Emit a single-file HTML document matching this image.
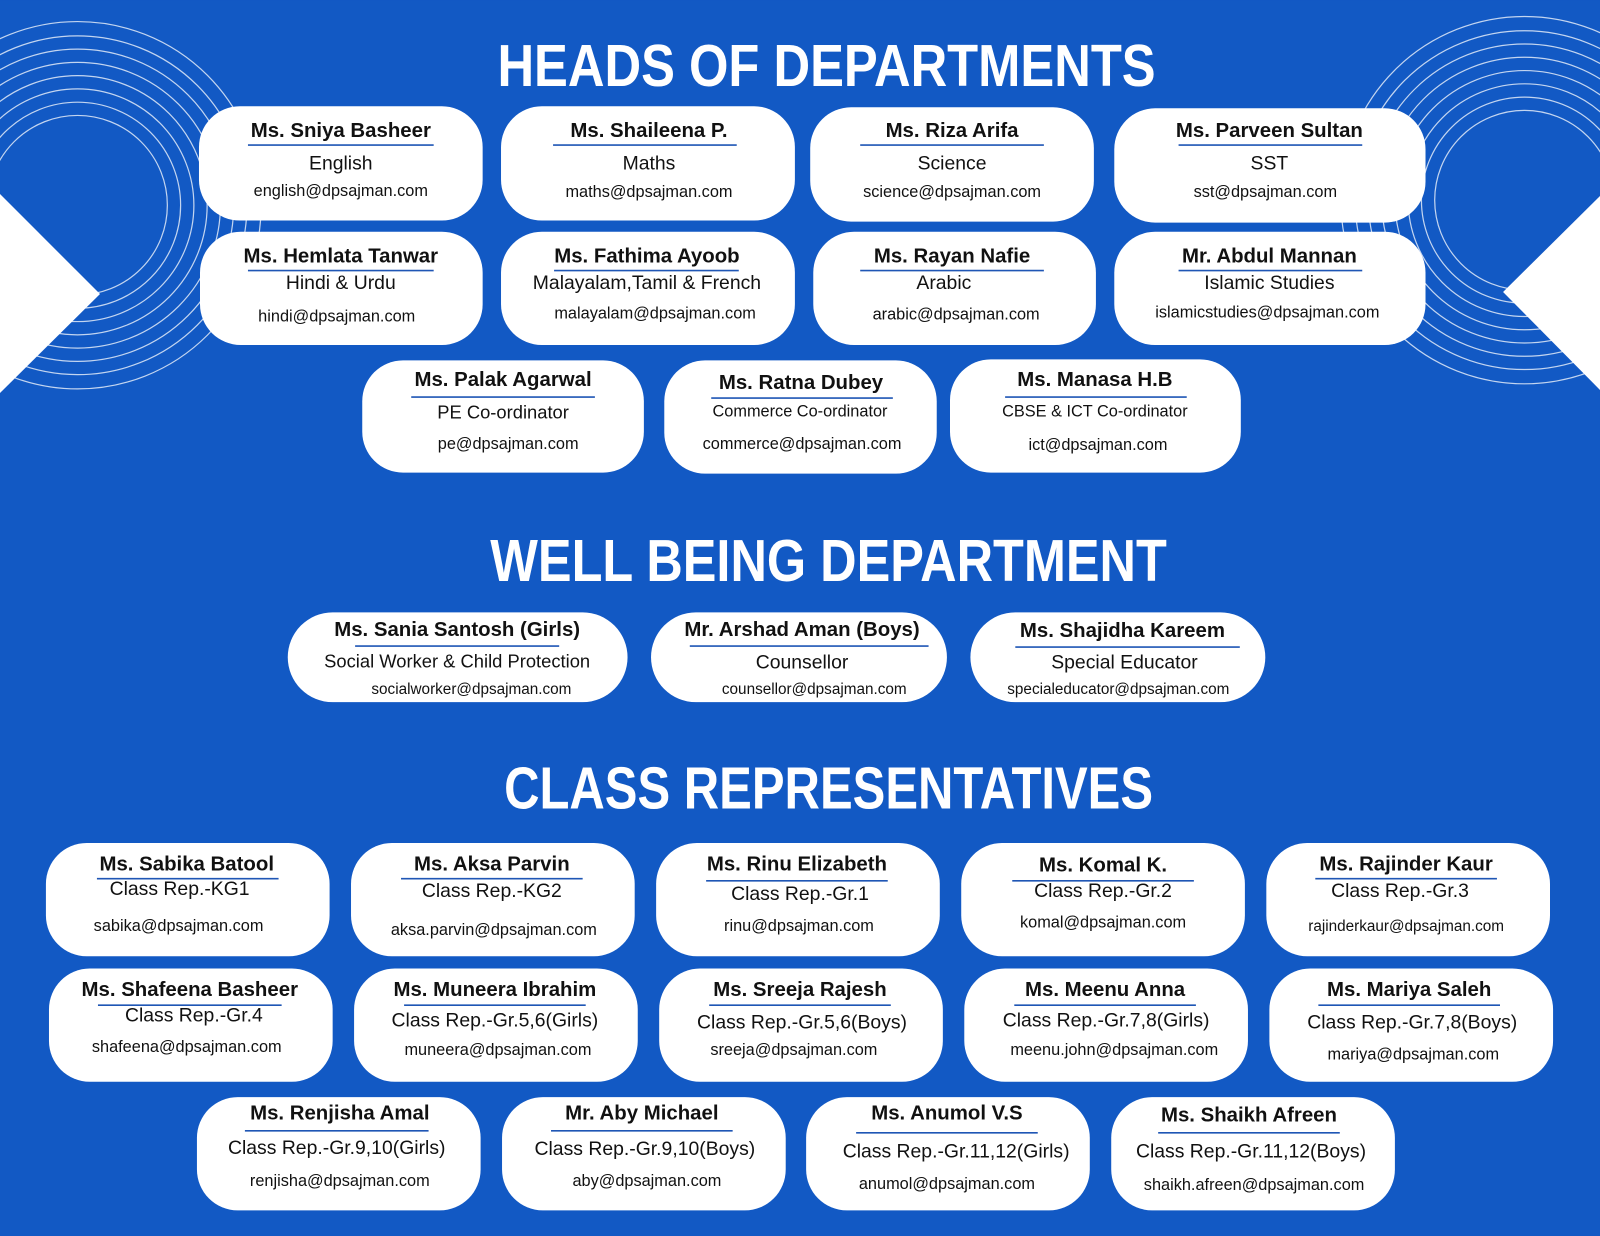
<!DOCTYPE html>
<html><head><meta charset="utf-8"><style>
html,body{margin:0;padding:0;background:#1259c4;}
svg{display:block;}
text{font-family:"Liberation Sans",sans-serif;fill:#111;text-anchor:middle;}
.h{fill:#fff;font-weight:bold;font-size:58px;}
.n{font-weight:bold;font-size:20px;}
.s{font-size:19px;}
.e{font-size:16px;}
.c{fill:#fff;}
.u{stroke:#1f56b5;stroke-width:1.6;}
.ring{fill:none;stroke:#fff;stroke-opacity:.75;stroke-width:1.2;}
</style></head><body>
<svg width="1600" height="1236" viewBox="0 0 1568 1211" xmlns="http://www.w3.org/2000/svg">
<rect width="1568" height="1211" fill="#1259c4"/>
<g class="ring">
<circle cx="76" cy="201" r="88"/><circle cx="76" cy="201" r="101"/><circle cx="76" cy="201" r="114"/><circle cx="76" cy="201" r="127"/><circle cx="76" cy="201" r="140"/><circle cx="76" cy="201" r="153"/><circle cx="76" cy="201" r="166"/><circle cx="76" cy="201" r="180"/>
<circle cx="1494" cy="196" r="88"/><circle cx="1494" cy="196" r="101"/><circle cx="1494" cy="196" r="114"/><circle cx="1494" cy="196" r="127"/><circle cx="1494" cy="196" r="140"/><circle cx="1494" cy="196" r="153"/><circle cx="1494" cy="196" r="166"/><circle cx="1494" cy="196" r="180"/>
</g>
<polygon points="0,190 98,288 0,385" fill="#fff"/>
<polygon points="1568,192 1473,286 1568,382" fill="#fff"/>

<text class="h" x="810" y="84" textLength="645" lengthAdjust="spacingAndGlyphs">HEADS OF DEPARTMENTS</text>
<text class="h" x="812" y="569" textLength="663" lengthAdjust="spacingAndGlyphs">WELL BEING DEPARTMENT</text>
<text class="h" x="812" y="792" textLength="636" lengthAdjust="spacingAndGlyphs">CLASS REPRESENTATIVES</text>

<!-- HOD row1 -->
<rect class="c" x="195" y="104" width="278" height="112" rx="40"/>
<rect class="c" x="491" y="104" width="288" height="112" rx="40"/>
<rect class="c" x="794" y="105" width="278" height="112" rx="40"/>
<rect class="c" x="1092" y="106" width="305" height="112" rx="40"/>
<text class="n" x="334" y="134">Ms. Sniya Basheer</text><line class="u" x1="243" y1="142" x2="425" y2="142"/><text class="s" x="334" y="166">English</text><text class="e" x="334" y="192">english@dpsajman.com</text>
<text class="n" x="636" y="134">Ms. Shaileena P.</text><line class="u" x1="542" y1="142" x2="722" y2="142"/><text class="s" x="636" y="166">Maths</text><text class="e" x="636" y="193">maths@dpsajman.com</text>
<text class="n" x="933" y="134">Ms. Riza Arifa</text><line class="u" x1="843" y1="142" x2="1023" y2="142"/><text class="s" x="933" y="166">Science</text><text class="e" x="933" y="193">science@dpsajman.com</text>
<text class="n" x="1244" y="134">Ms. Parveen Sultan</text><line class="u" x1="1155" y1="142" x2="1335" y2="142"/><text class="s" x="1244" y="166">SST</text><text class="e" x="1240" y="193">sst@dpsajman.com</text>
<!-- HOD row2 -->
<rect class="c" x="196" y="227" width="277" height="111" rx="40"/>
<rect class="c" x="491" y="227" width="288" height="111" rx="40"/>
<rect class="c" x="797" y="227" width="277" height="111" rx="40"/>
<rect class="c" x="1092" y="227" width="305" height="111" rx="40"/>
<text class="n" x="334" y="257">Ms. Hemlata Tanwar</text><line class="u" x1="243" y1="265" x2="425" y2="265"/><text class="s" x="334" y="283">Hindi &amp; Urdu</text><text class="e" x="330" y="315">hindi@dpsajman.com</text>
<text class="n" x="634" y="257">Ms. Fathima Ayoob</text><line class="u" x1="543" y1="265" x2="724" y2="265"/><text class="s" x="634" y="283">Malayalam,Tamil &amp; French</text><text class="e" x="642" y="312">malayalam@dpsajman.com</text>
<text class="n" x="933" y="257">Ms. Rayan Nafie</text><line class="u" x1="843" y1="265" x2="1023" y2="265"/><text class="s" x="925" y="283">Arabic</text><text class="e" x="937" y="313">arabic@dpsajman.com</text>
<text class="n" x="1244" y="257">Mr. Abdul Mannan</text><line class="u" x1="1155" y1="265" x2="1335" y2="265"/><text class="s" x="1244" y="283">Islamic Studies</text><text class="e" x="1242" y="311">islamicstudies@dpsajman.com</text>
<!-- HOD row3 -->
<rect class="c" x="355" y="353" width="276" height="110" rx="40"/>
<rect class="c" x="651" y="353" width="267" height="111" rx="40"/>
<rect class="c" x="931" y="352" width="285" height="111" rx="40"/>
<text class="n" x="493" y="378">Ms. Palak Agarwal</text><line class="u" x1="403" y1="389" x2="583" y2="389"/><text class="s" x="493" y="410" style="font-size:18px">PE Co-ordinator</text><text class="e" x="498" y="440">pe@dpsajman.com</text>
<text class="n" x="785" y="381">Ms. Ratna Dubey</text><line class="u" x1="697" y1="390" x2="875" y2="390"/><text class="s" x="784" y="408" style="font-size:16px">Commerce Co-ordinator</text><text class="e" x="786" y="440">commerce@dpsajman.com</text>
<text class="n" x="1073" y="378">Ms. Manasa H.B</text><line class="u" x1="985" y1="389" x2="1163" y2="389"/><text class="s" x="1073" y="408" style="font-size:16px">CBSE &amp; ICT Co-ordinator</text><text class="e" x="1076" y="441">ict@dpsajman.com</text>

<!-- Wellbeing -->
<rect class="c" x="282" y="600" width="333" height="88" rx="44"/>
<rect class="c" x="638" y="600" width="290" height="88" rx="44"/>
<rect class="c" x="951" y="600" width="289" height="88" rx="44"/>
<text class="n" x="448" y="623">Ms. Sania Santosh  (Girls)</text><line class="u" x1="348" y1="633" x2="548" y2="633"/><text class="s" x="448" y="654" style="font-size:18px">Social Worker &amp; Child Protection</text><text class="e" x="462" y="680" style="font-size:15px">socialworker@dpsajman.com</text>
<text class="n" x="786" y="623">Mr. Arshad Aman (Boys)</text><line class="u" x1="676" y1="633" x2="910" y2="633"/><text class="s" x="786" y="655">Counsellor</text><text class="e" x="798" y="680" style="font-size:15px">counsellor@dpsajman.com</text>
<text class="n" x="1100" y="624">Ms. Shajidha Kareem</text><line class="u" x1="995" y1="634" x2="1215" y2="634"/><text class="s" x="1102" y="655">Special Educator</text><text class="e" x="1096" y="680" style="font-size:15px">specialeducator@dpsajman.com</text>

<!-- CR row1 -->
<rect class="c" x="45" y="826" width="278" height="111" rx="40"/>
<rect class="c" x="344" y="826" width="278" height="111" rx="40"/>
<rect class="c" x="643" y="826" width="278" height="111" rx="40"/>
<rect class="c" x="942" y="826" width="278" height="111" rx="40"/>
<rect class="c" x="1241" y="826" width="278" height="111" rx="40"/>
<text class="n" x="183" y="853">Ms. Sabika Batool</text><line class="u" x1="95" y1="861" x2="273" y2="861"/><text class="s" x="176" y="877">Class Rep.-KG1</text><text class="e" x="175" y="912">sabika@dpsajman.com</text>
<text class="n" x="482" y="853">Ms. Aksa Parvin</text><line class="u" x1="393" y1="861" x2="571" y2="861"/><text class="s" x="482" y="879">Class Rep.-KG2</text><text class="e" x="484" y="916">aksa.parvin@dpsajman.com</text>
<text class="n" x="781" y="853">Ms. Rinu Elizabeth</text><line class="u" x1="692" y1="863" x2="870" y2="863"/><text class="s" x="784" y="882">Class Rep.-Gr.1</text><text class="e" x="783" y="912">rinu@dpsajman.com</text>
<text class="n" x="1081" y="854">Ms. Komal  K.</text><line class="u" x1="992" y1="863" x2="1170" y2="863"/><text class="s" x="1081" y="879">Class Rep.-Gr.2</text><text class="e" x="1081" y="909">komal@dpsajman.com</text>
<text class="n" x="1378" y="853">Ms. Rajinder Kaur</text><line class="u" x1="1289" y1="861" x2="1467" y2="861"/><text class="s" x="1372" y="879">Class Rep.-Gr.3</text><text class="e" x="1378" y="912" style="font-size:15px">rajinderkaur@dpsajman.com</text>
<!-- CR row2 -->
<rect class="c" x="48" y="949" width="278" height="111" rx="40"/>
<rect class="c" x="347" y="949" width="278" height="111" rx="40"/>
<rect class="c" x="646" y="949" width="278" height="111" rx="40"/>
<rect class="c" x="945" y="949" width="278" height="111" rx="40"/>
<rect class="c" x="1244" y="949" width="278" height="111" rx="40"/>
<text class="n" x="186" y="976">Ms. Shafeena Basheer</text><line class="u" x1="96" y1="985" x2="276" y2="985"/><text class="s" x="190" y="1001">Class Rep.-Gr.4</text><text class="e" x="183" y="1031">shafeena@dpsajman.com</text>
<text class="n" x="485" y="976">Ms. Muneera Ibrahim</text><line class="u" x1="396" y1="985" x2="574" y2="985"/><text class="s" x="485" y="1006">Class Rep.-Gr.5,6(Girls)</text><text class="e" x="488" y="1034">muneera@dpsajman.com</text>
<text class="n" x="784" y="976">Ms. Sreeja Rajesh</text><line class="u" x1="695" y1="985" x2="873" y2="985"/><text class="s" x="786" y="1008">Class Rep.-Gr.5,6(Boys)</text><text class="e" x="778" y="1034">sreeja@dpsajman.com</text>
<text class="n" x="1083" y="976">Ms. Meenu Anna</text><line class="u" x1="994" y1="985" x2="1172" y2="985"/><text class="s" x="1084" y="1006">Class Rep.-Gr.7,8(Girls)</text><text class="e" x="1092" y="1034">meenu.john@dpsajman.com</text>
<text class="n" x="1381" y="976">Ms. Mariya Saleh</text><line class="u" x1="1292" y1="985" x2="1470" y2="985"/><text class="s" x="1384" y="1008">Class Rep.-Gr.7,8(Boys)</text><text class="e" x="1385" y="1038">mariya@dpsajman.com</text>
<!-- CR row3 -->
<rect class="c" x="193" y="1075" width="278" height="111" rx="40"/>
<rect class="c" x="492" y="1075" width="278" height="111" rx="40"/>
<rect class="c" x="790" y="1075" width="278" height="111" rx="40"/>
<rect class="c" x="1089" y="1075" width="278" height="111" rx="40"/>
<text class="n" x="333" y="1097">Ms. Renjisha Amal</text><line class="u" x1="240" y1="1108" x2="420" y2="1108"/><text class="s" x="330" y="1131">Class Rep.-Gr.9,10(Girls)</text><text class="e" x="333" y="1162">renjisha@dpsajman.com</text>
<text class="n" x="629" y="1097">Mr. Aby Michael</text><line class="u" x1="540" y1="1108" x2="718" y2="1108"/><text class="s" x="632" y="1132">Class Rep.-Gr.9,10(Boys)</text><text class="e" x="634" y="1162">aby@dpsajman.com</text>
<text class="n" x="928" y="1097">Ms. Anumol V.S</text><line class="u" x1="839" y1="1110" x2="1017" y2="1110"/><text class="s" x="937" y="1134">Class Rep.-Gr.11,12(Girls)</text><text class="e" x="928" y="1165">anumol@dpsajman.com</text>
<text class="n" x="1224" y="1099">Ms. Shaikh Afreen</text><line class="u" x1="1135" y1="1110" x2="1313" y2="1110"/><text class="s" x="1226" y="1134">Class Rep.-Gr.11,12(Boys)</text><text class="e" x="1229" y="1166">shaikh.afreen@dpsajman.com</text>
</svg>
</body></html>
